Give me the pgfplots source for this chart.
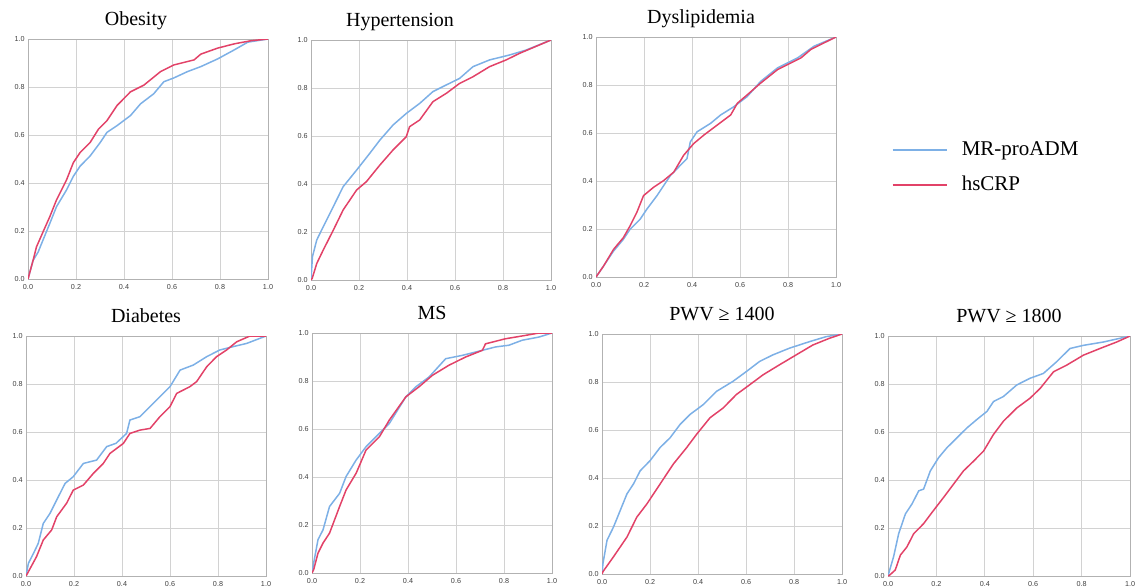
\documentclass[border=0pt]{standalone}
\usepackage{fontspec}
\setmainfont{Liberation Serif}
\newfontfamily\tickfont{Liberation Sans}
\usepackage{pgfplots}
\pgfplotsset{compat=1.18}

\definecolor{rocblue}{RGB}{125,176,230}
\definecolor{rocred}{RGB}{226,66,104}

\pgfplotsset{
  roc/.style={
    scale only axis,
    width=120pt, height=120pt,
    anchor=south west,
    xmin=0, xmax=1, ymin=0, ymax=1,
    xtick={0,0.2,...,1}, ytick={0,0.2,...,1},
    grid=major,
    grid style={gray!35, line width=0.5pt},
    axis line style={gray!60, line width=0.5pt},
    major tick length=0pt,
    tick label style={font=\tickfont\fontsize{3.6}{4}\selectfont, text=black!75},
    /pgf/number format/assume math mode=true,
    /pgf/number format/.cd, fixed, fixed zerofill, precision=1, /pgfplots/.cd,
    xticklabel style={inner sep=1pt, yshift=-1.5pt},
    yticklabel style={inner sep=1pt, xshift=-0.5pt},
    % default title style already shifts up by 6pt
    title style={font=\fontsize{10}{12}\selectfont, at={(0.5,1)}, anchor=base, yshift=0.8pt},
    every axis plot/.append style={line width=0.75pt, no markers},
  },
  blueroc/.style={rocblue},
  redroc/.style={rocred},
}

\begin{document}
\begin{tikzpicture}
\useasboundingbox (0,0) rectangle (568pt,-293pt);

% Obesity
\begin{axis}[roc, at={(14pt,-139.5pt)}, title={Obesity}, title style={xshift=-6pt}]
\addplot[blueroc] coordinates {(0,0) (0.021,0.077) (0.042,0.112) (0.091,0.232) (0.119,0.302) (0.161,0.372) (0.189,0.428) (0.217,0.47) (0.259,0.513) (0.301,0.569) (0.329,0.611) (0.371,0.639) (0.427,0.681) (0.469,0.73) (0.524,0.772) (0.566,0.822) (0.608,0.838) (0.664,0.864) (0.72,0.885) (0.79,0.917) (0.86,0.955) (0.916,0.987) (1,1)};
\addplot[redroc] coordinates {(0,0) (0.021,0.077) (0.035,0.133) (0.063,0.197) (0.091,0.26) (0.119,0.33) (0.161,0.414) (0.189,0.485) (0.217,0.527) (0.259,0.569) (0.294,0.625) (0.329,0.66) (0.371,0.723) (0.427,0.78) (0.483,0.808) (0.552,0.864) (0.608,0.892) (0.692,0.913) (0.72,0.937) (0.79,0.962) (0.86,0.98) (0.93,0.993) (1,1)};
\end{axis}

% Hypertension
\begin{axis}[roc, at={(155.5pt,-140pt)}, title={Hypertension}, title style={xshift=-15.5pt}]
\addplot[blueroc] coordinates {(0,0) (0.006,0.097) (0.024,0.167) (0.051,0.222) (0.093,0.306) (0.134,0.389) (0.19,0.458) (0.245,0.528) (0.287,0.583) (0.342,0.646) (0.397,0.694) (0.453,0.736) (0.508,0.785) (0.564,0.813) (0.619,0.84) (0.675,0.889) (0.744,0.917) (0.827,0.9375) (0.896,0.958) (1,1)};
\addplot[redroc] coordinates {(0,0) (0.005,0.007) (0.024,0.069) (0.051,0.125) (0.093,0.208) (0.134,0.292) (0.19,0.375) (0.231,0.41) (0.287,0.479) (0.342,0.542) (0.397,0.597) (0.411,0.639) (0.453,0.667) (0.508,0.743) (0.564,0.778) (0.619,0.819) (0.675,0.847) (0.744,0.889) (0.813,0.917) (0.868,0.944) (1,1)};
\end{axis}

% Dyslipidemia (carries the legend)
\begin{axis}[roc, at={(298pt,-138.5pt)}, title={Dyslipidemia}, title style={xshift=-7.5pt},
  legend style={draw=none, fill=none, inner sep=0pt, at={(1.23,0.455)}, anchor=west,
    font=\fontsize{10.5}{12}\selectfont, row sep=6pt,
    nodes={inner sep=1pt, text height=7.5pt, text depth=2pt}},
  legend cell align=left,
  legend image code/.code={\draw[#1, line width=1.1pt] (0pt,0pt) -- (27pt,0pt);},
  /tikz/every even column/.append style={column sep=0pt},
  /tikz/every odd column/.append style={column sep=6pt}]
\addplot[blueroc] coordinates {(0,0) (0.031,0.045) (0.073,0.108) (0.114,0.157) (0.142,0.199) (0.184,0.241) (0.212,0.283) (0.254,0.339) (0.282,0.381) (0.31,0.423) (0.351,0.465) (0.379,0.493) (0.393,0.563) (0.421,0.605) (0.477,0.64) (0.519,0.675) (0.575,0.71) (0.63,0.752) (0.686,0.815) (0.756,0.871) (0.84,0.913) (0.909,0.962) (1,1)};
\addlegendentry{MR-proADM}
\addplot[redroc] coordinates {(0,0) (0.031,0.045) (0.073,0.115) (0.114,0.164) (0.142,0.213) (0.17,0.269) (0.198,0.339) (0.24,0.374) (0.282,0.402) (0.324,0.437) (0.365,0.507) (0.407,0.556) (0.449,0.591) (0.505,0.633) (0.561,0.675) (0.589,0.724) (0.63,0.759) (0.686,0.808) (0.756,0.864) (0.812,0.892) (0.854,0.913) (0.895,0.948) (0.951,0.976) (1,1)};
\addlegendentry{hsCRP}
\end{axis}

% Diabetes
\begin{axis}[roc, at={(13pt,-288pt)}, title={Diabetes}]
\addplot[blueroc] coordinates {(0,0) (0.01,0.053) (0.031,0.094) (0.051,0.136) (0.072,0.219) (0.1,0.261) (0.135,0.331) (0.163,0.386) (0.197,0.414) (0.239,0.469) (0.294,0.483) (0.336,0.539) (0.375,0.553) (0.419,0.594) (0.433,0.65) (0.475,0.664) (0.517,0.706) (0.558,0.747) (0.6,0.789) (0.642,0.858) (0.697,0.879) (0.753,0.914) (0.808,0.942) (0.864,0.956) (0.919,0.969) (1,1)};
\addplot[redroc] coordinates {(0,0) (0.01,0.018) (0.044,0.081) (0.072,0.15) (0.107,0.192) (0.128,0.247) (0.169,0.303) (0.197,0.358) (0.239,0.379) (0.281,0.428) (0.322,0.469) (0.35,0.511) (0.406,0.553) (0.433,0.594) (0.475,0.608) (0.517,0.615) (0.558,0.664) (0.6,0.706) (0.628,0.761) (0.683,0.789) (0.711,0.81) (0.753,0.872) (0.794,0.914) (0.836,0.942) (0.878,0.976) (0.933,1) (1,1)};
\end{axis}

% MS
\begin{axis}[roc, at={(156pt,-286.5pt)}, title={MS}]
\addplot[blueroc] coordinates {(0,0) (0.007,0.042) (0.025,0.139) (0.046,0.18) (0.073,0.277) (0.115,0.332) (0.142,0.402) (0.184,0.471) (0.225,0.526) (0.281,0.582) (0.322,0.623) (0.391,0.734) (0.433,0.776) (0.488,0.817) (0.557,0.893) (0.627,0.907) (0.71,0.928) (0.765,0.942) (0.82,0.949) (0.876,0.97) (0.945,0.983) (1,1)};
\addplot[redroc] coordinates {(0,0) (0.007,0.014) (0.025,0.083) (0.046,0.125) (0.073,0.166) (0.115,0.277) (0.142,0.346) (0.184,0.416) (0.225,0.512) (0.281,0.568) (0.322,0.637) (0.391,0.734) (0.446,0.776) (0.502,0.824) (0.571,0.866) (0.64,0.9) (0.71,0.928) (0.723,0.955) (0.806,0.976) (0.889,0.99) (0.945,1) (1,1)};
\end{axis}

% PWV >= 1400
\begin{axis}[roc, at={(301pt,-287pt)}, title={PWV ≥ 1400}]
\addplot[blueroc] coordinates {(0,0) (0.004,0.044) (0.021,0.141) (0.048,0.196) (0.076,0.265) (0.104,0.334) (0.131,0.375) (0.159,0.43) (0.2,0.472) (0.242,0.527) (0.284,0.568) (0.325,0.623) (0.367,0.665) (0.422,0.706) (0.477,0.761) (0.546,0.803) (0.602,0.844) (0.657,0.886) (0.712,0.913) (0.781,0.941) (0.864,0.968) (0.934,0.989) (1,1)};
\addplot[redroc] coordinates {(0,0) (0.004,0.01) (0.048,0.072) (0.104,0.154) (0.145,0.237) (0.187,0.292) (0.242,0.375) (0.297,0.458) (0.353,0.527) (0.394,0.582) (0.45,0.651) (0.505,0.692) (0.56,0.748) (0.616,0.789) (0.671,0.83) (0.74,0.872) (0.809,0.913) (0.878,0.954) (0.947,0.982) (1,1)};
\end{axis}

% PWV >= 1800
\begin{axis}[roc, at={(444pt,-288pt)}, width=121pt, title={PWV ≥ 1800}]
\addplot[blueroc] coordinates {(0,0) (0.007,0.025) (0.023,0.08) (0.044,0.176) (0.072,0.259) (0.099,0.3) (0.127,0.355) (0.147,0.362) (0.175,0.438) (0.209,0.493) (0.243,0.534) (0.285,0.576) (0.326,0.617) (0.367,0.652) (0.409,0.686) (0.436,0.727) (0.477,0.748) (0.532,0.796) (0.587,0.824) (0.642,0.844) (0.697,0.893) (0.752,0.948) (0.807,0.961) (0.89,0.975) (1,1)};
\addplot[redroc] coordinates {(0,0) (0.007,0.004) (0.03,0.025) (0.051,0.087) (0.078,0.121) (0.106,0.176) (0.147,0.218) (0.188,0.273) (0.23,0.328) (0.271,0.383) (0.312,0.438) (0.354,0.479) (0.395,0.521) (0.436,0.59) (0.477,0.645) (0.532,0.7) (0.587,0.741) (0.629,0.782) (0.684,0.851) (0.739,0.879) (0.807,0.92) (0.876,0.948) (0.945,0.975) (1,1)};
\end{axis}

\end{tikzpicture}
\end{document}
